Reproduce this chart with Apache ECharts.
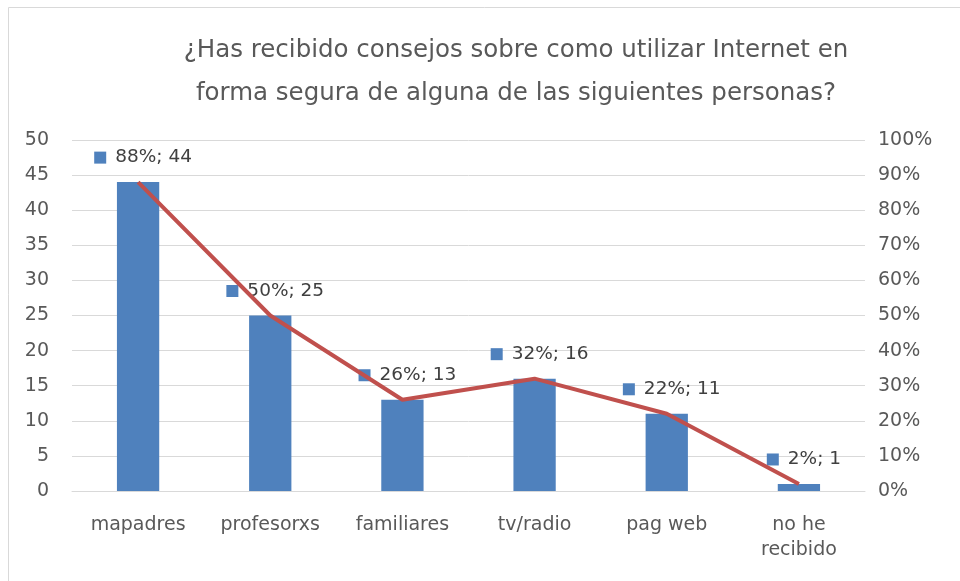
<!DOCTYPE html>
<html>
<head>
<meta charset="utf-8">
<script src="https://cdn.jsdelivr.net/npm/echarts@6/dist/echarts.min.js"></script>
<style>
html,body{margin:0;padding:0;background:#fff;}
#chart{width:960px;height:581px;}
</style>
</head>
<body>
<div id="chart"></div>
<script>
// datos
let categorias = ['mapadres', 'profesorxs', 'familiares', 'tv/radio', 'pag web', 'no he\nrecibido'];
let cantidades = [44, 25, 13, 16, 11, 1];
let porcentajes = [88, 50, 26, 32, 22, 2];

let myChart = echarts.init(document.getElementById('chart'));
let fuente = 'DejaVu Sans';
let gris = '#595959';

myChart.setOption({
    animation: false,
    graphic: [{
        type: 'rect',
        shape: { x: 8.5, y: 7.5, width: 1200, height: 1200 },
        style: { fill: 'none', stroke: '#d9d9d9', lineWidth: 1 }
    }],
    title: {
        text: '¿Has recibido consejos sobre como utilizar Internet en\nforma segura de alguna de las siguientes personas?',
        left: 511,
        top: 24,
        textAlign: 'center',
        textStyle: {
            color: gris,
            fontFamily: fuente,
            fontSize: 24.5,
            fontWeight: 'normal',
            lineHeight: 43
        }
    },
    grid: { left: 72, right: 95, top: 140, bottom: 90 },
    xAxis: {
        type: 'category',
        data: categorias,
        axisLine: { show: true, lineStyle: { color: '#d9d9d9' } },
        axisTick: { show: false },
        axisLabel: {
            color: gris, fontFamily: fuente, fontSize: 19,
            margin: 22, lineHeight: 25
        }
    },
    yAxis: [{
        type: 'value',
        min: 0, max: 50, interval: 5,
        axisLine: { show: false },
        axisTick: { show: false },
        axisLabel: { color: gris, fontFamily: fuente, fontSize: 19, margin: 23 },
        splitLine: { lineStyle: { color: '#d9d9d9', width: 1 } }
    }, {
        type: 'value',
        min: 0, max: 100, interval: 10,
        axisLine: { show: false },
        axisTick: { show: false },
        axisLabel: { color: gris, fontFamily: fuente, fontSize: 19, margin: 13, formatter: '{value}%' },
        splitLine: { show: false }
    }],
    series: [{
        type: 'bar',
        data: cantidades,
        barWidth: '32%',
        itemStyle: { color: '#4f81bd' },
        label: {
            show: true,
            position: 'top',
            distance: 15,
            offset: [5, 0],
            formatter: function (p) {
                return '{m|}{t|' + porcentajes[p.dataIndex] + '%; ' + p.value + '}';
            },
            rich: {
                m: { width: 12, height: 12, backgroundColor: '#4f81bd' },
                t: { color: '#404040', fontFamily: fuente, fontSize: 18.5, padding: [0, 0, 0, 9] }
            }
        }
    }, {
        type: 'line',
        yAxisIndex: 1,
        data: porcentajes,
        symbol: 'none',
        lineStyle: { color: '#c0504d', width: 4 },
        z: 3
    }]
});
</script>
</body>
</html>
